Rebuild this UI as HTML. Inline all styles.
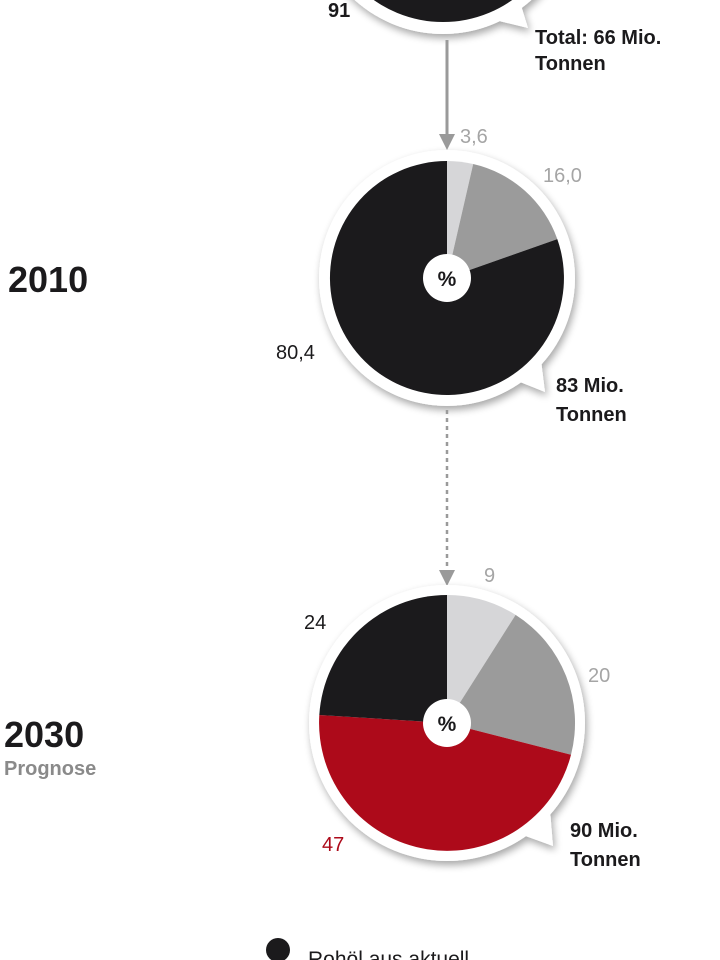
<!DOCTYPE html>
<html><head><meta charset="utf-8"><style>
html,body{margin:0;padding:0;background:#fff;}
svg{display:block;}
text{font-family:"Liberation Sans",sans-serif;}
</style></head><body>
<svg width="720" height="960" viewBox="0 0 720 960" xmlns="http://www.w3.org/2000/svg">
<defs>
<filter id="sh" x="-20%" y="-20%" width="140%" height="140%"><feGaussianBlur in="SourceAlpha" stdDeviation="4"/><feOffset dx="2" dy="4"/><feComponentTransfer><feFuncA type="linear" slope="0.35"/></feComponentTransfer><feMerge><feMergeNode/><feMergeNode in="SourceGraphic"/></feMerge></filter>
</defs>
<!-- top pie -->
<g filter="url(#sh)">
<circle cx="443" cy="-98" r="132" fill="#fff"/>
<polygon points="495,20 528,28 520,2" fill="#fff"/>
</g>
<circle cx="443" cy="-98" r="120" fill="#1b1a1c"/>
<text x="328" y="17" font-size="20" font-weight="bold" fill="#1b1a1c">91</text>
<text x="535" y="44" font-size="20" font-weight="bold" fill="#1b1a1c">Total: 66 Mio.</text>
<text x="535" y="70" font-size="20" font-weight="bold" fill="#1b1a1c">Tonnen</text>
<line x1="447" y1="40" x2="447" y2="138" stroke="#9a9a9a" stroke-width="3"/>
<polygon points="439,134 455,134 447,150" fill="#9a9a9a"/>
<!-- 2010 pie -->
<g filter="url(#sh)">
<circle cx="447" cy="278" r="128" fill="#fff"/>
<polygon points="515,380 545,392 541,360" fill="#fff"/>
</g>
<path d="M447,278 L447,161 A117,117 0 0 1 473.2,164 Z" fill="#d6d6d8"/>
<path d="M447,278 L473.2,164 A117,117 0 0 1 557.3,239.1 Z" fill="#9b9b9b"/>
<path d="M447,278 L557.3,239.1 A117,117 0 1 1 447,161 Z" fill="#1b1a1c"/>
<circle cx="447" cy="278" r="24" fill="#fff"/>
<text x="447" y="286" font-size="21" font-weight="bold" text-anchor="middle" fill="#1b1a1c">%</text>
<text x="460" y="143" font-size="20" fill="#a5a5a5">3,6</text>
<text x="543" y="182" font-size="20" fill="#a5a5a5">16,0</text>
<text x="276" y="359" font-size="20" fill="#1b1a1c">80,4</text>
<text x="556" y="392" font-size="20" font-weight="bold" fill="#1b1a1c">83 Mio.</text>
<text x="556" y="421" font-size="20" font-weight="bold" fill="#1b1a1c">Tonnen</text>
<text x="8" y="292" font-size="36" font-weight="bold" fill="#1b1a1c">2010</text>
<line x1="447" y1="410" x2="447" y2="572" stroke="#9a9a9a" stroke-width="2.5" stroke-dasharray="4,4"/>
<polygon points="439,570 455,570 447,586" fill="#9a9a9a"/>
<!-- 2030 pie -->
<g filter="url(#sh)">
<circle cx="447" cy="723" r="138" fill="#fff"/>
<polygon points="520,834 553,846 550,810" fill="#fff"/>
</g>
<path d="M447,723 L447,595 A128,128 0 0 1 515.6,614.9 Z" fill="#d6d6d8"/>
<path d="M447,723 L515.6,614.9 A128,128 0 0 1 571,754.8 Z" fill="#9b9b9b"/>
<path d="M447,723 L571,754.8 A128,128 0 0 1 319.3,715 Z" fill="#ad0a1a"/>
<path d="M447,723 L319.3,715 A128,128 0 0 1 447,595 Z" fill="#1b1a1c"/>
<circle cx="447" cy="723" r="24" fill="#fff"/>
<text x="447" y="731" font-size="21" font-weight="bold" text-anchor="middle" fill="#1b1a1c">%</text>
<text x="484" y="582" font-size="20" fill="#a5a5a5">9</text>
<text x="588" y="682" font-size="20" fill="#a5a5a5">20</text>
<text x="304" y="629" font-size="20" fill="#1b1a1c">24</text>
<text x="322" y="851" font-size="20" fill="#ad0a1a">47</text>
<text x="570" y="837" font-size="20" font-weight="bold" fill="#1b1a1c">90 Mio.</text>
<text x="570" y="866" font-size="20" font-weight="bold" fill="#1b1a1c">Tonnen</text>
<text x="4" y="747" font-size="36" font-weight="bold" fill="#1b1a1c">2030</text>
<text x="4" y="775" font-size="20" font-weight="bold" fill="#8a8a8a">Prognose</text>
<circle cx="278" cy="950" r="12" fill="#1b1a1c"/>
<text x="308" y="966" font-size="21" fill="#1b1a1c">Rohöl aus aktuell</text>
</svg>
</body></html>
